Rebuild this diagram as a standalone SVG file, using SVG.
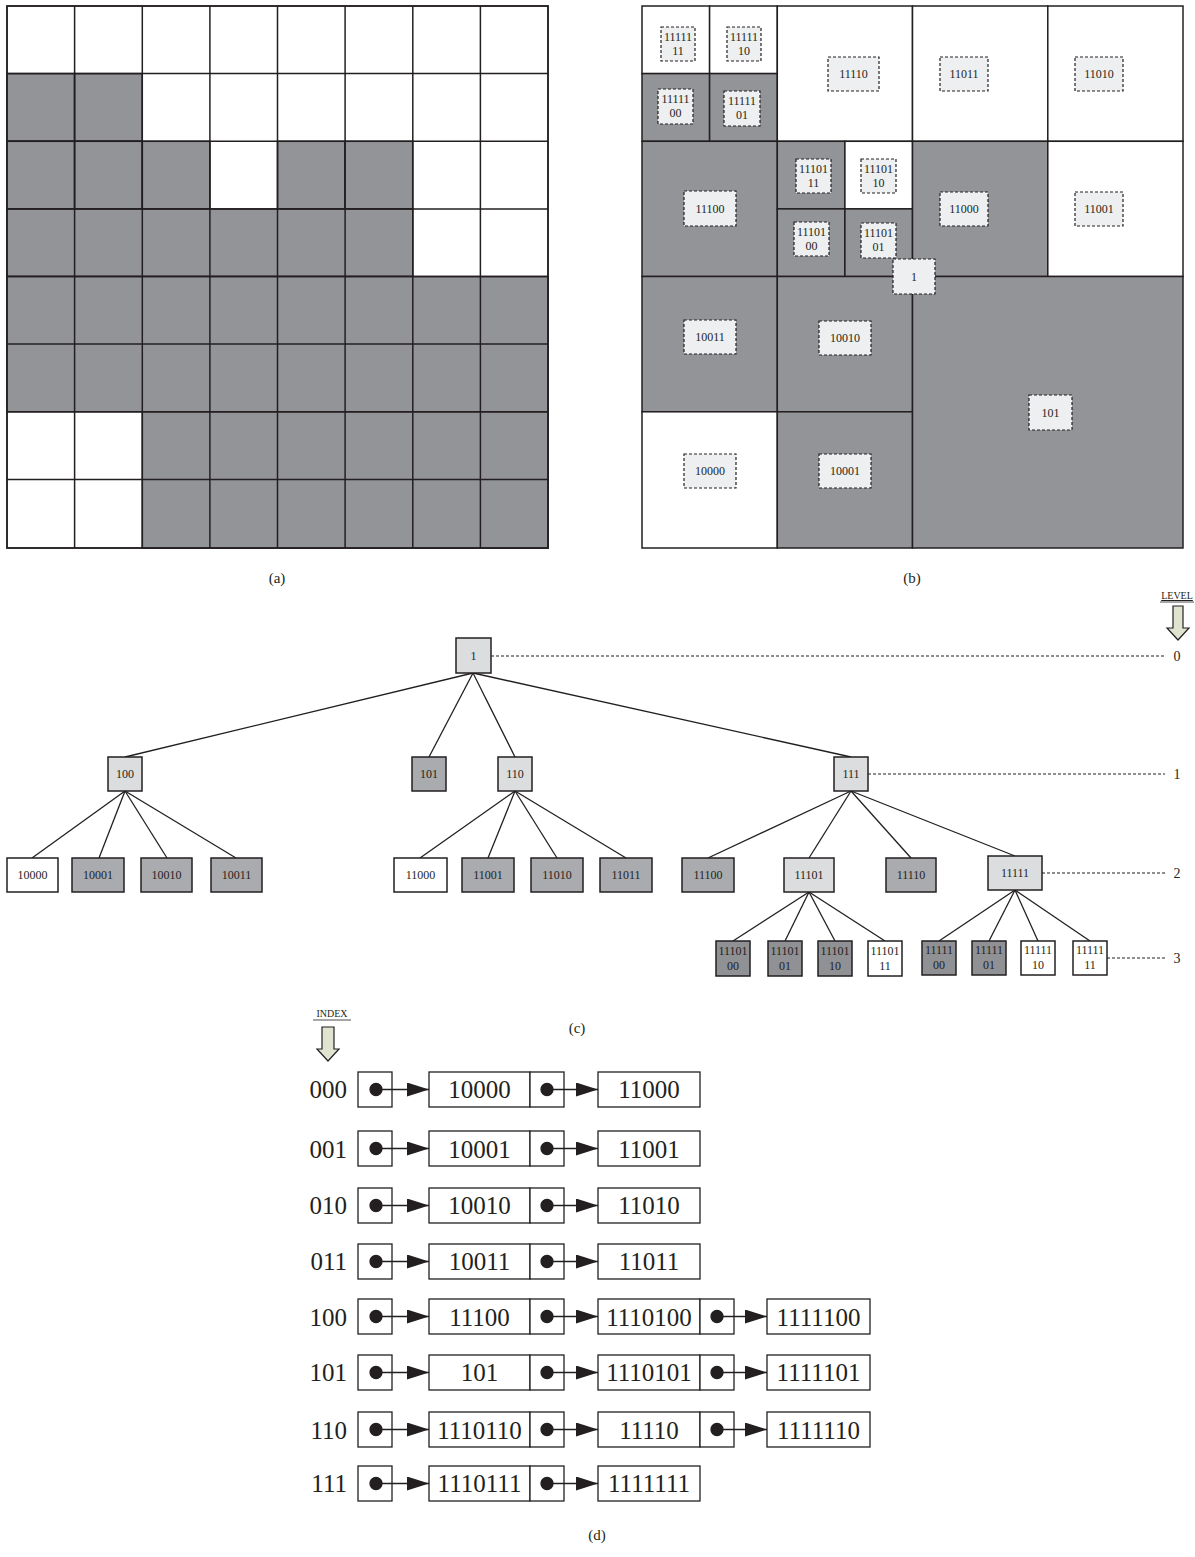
<svg xmlns="http://www.w3.org/2000/svg" width="1195" height="1557" viewBox="0 0 1195 1557">
<style>
text{font-family:"Liberation Serif","Times New Roman",serif;fill:#231f20}
.g{fill:#939498;stroke:#231f20;stroke-width:1.5}
.w{fill:#fff;stroke:#231f20;stroke-width:1.5}
.lb{fill:#eeeff1;stroke:#231f20;stroke-width:1.2;stroke-dasharray:3 2}
.s{font-size:12px;text-anchor:middle}
.cap{font-size:15px;text-anchor:middle}
.nl{fill:#dcdddf;stroke:#231f20;stroke-width:1.5}
.ng{fill:#aaabae;stroke:#231f20;stroke-width:1.5}
.nd{fill:#909195;stroke:#231f20;stroke-width:1.5}
.nw{fill:#fff;stroke:#231f20;stroke-width:1.5}
.e{stroke:#231f20;stroke-width:1.3;fill:none}
.dl{stroke:#231f20;stroke-width:1.2;stroke-dasharray:3 2;fill:none}
.lv{font-size:14px;text-anchor:middle}
.bx{fill:#fff;stroke:#231f20;stroke-width:1.3}
.t{font-size:25px;text-anchor:middle}
.ix{font-size:25px;text-anchor:end}
.bigarrow{fill:#dfe3cf;stroke:#231f20;stroke-width:1.2}
</style>
<defs>
<marker id="ah" markerWidth="22" markerHeight="14" refX="22" refY="7" orient="auto" markerUnits="userSpaceOnUse">
<path d="M0,0 L22,7 L0,14 Z" fill="#231f20"/>
</marker>
</defs>

<!-- Panel (a) -->
<g id="panel-a">
<rect class="w" x="7" y="6" width="541" height="542"/>
<g class="g">
<rect x="7" y="73.6" width="67.6" height="67.6"/><rect x="74.6" y="73.6" width="67.6" height="67.6"/>
<rect x="7" y="141.3" width="67.6" height="67.6"/><rect x="74.6" y="141.3" width="67.6" height="67.6"/><rect x="142.3" y="141.3" width="67.6" height="67.6"/><rect x="277.5" y="141.3" width="67.6" height="67.6"/><rect x="345.1" y="141.3" width="67.6" height="67.6"/>
<rect x="7" y="208.9" width="405.8" height="67.6"/>
<rect x="7" y="276.5" width="541" height="135.3"/>
<rect x="142.3" y="411.8" width="405.7" height="136.2"/>
</g>
<g stroke="#231f20" stroke-width="1.5">
<line x1="74.6" y1="6" x2="74.6" y2="548"/><line x1="142.3" y1="6" x2="142.3" y2="548"/><line x1="209.9" y1="6" x2="209.9" y2="548"/><line x1="277.5" y1="6" x2="277.5" y2="548"/><line x1="345.1" y1="6" x2="345.1" y2="548"/><line x1="412.8" y1="6" x2="412.8" y2="548"/><line x1="480.4" y1="6" x2="480.4" y2="548"/>
<line x1="7" y1="73.6" x2="548" y2="73.6"/><line x1="7" y1="141.3" x2="548" y2="141.3"/><line x1="7" y1="208.9" x2="548" y2="208.9"/><line x1="7" y1="276.5" x2="548" y2="276.5"/><line x1="7" y1="344.1" x2="548" y2="344.1"/><line x1="7" y1="411.8" x2="548" y2="411.8"/><line x1="7" y1="479.4" x2="548" y2="479.4"/>
</g>
<rect x="7" y="6" width="541" height="542" fill="none" stroke="#231f20" stroke-width="1.5"/>
<text class="cap" x="277" y="583">(a)</text>
</g>

<!-- Panel (b) -->
<g id="panel-b">
<rect class="w" x="642" y="6" width="67.6" height="67.6"/>
<rect class="w" x="709.6" y="6" width="67.7" height="67.6"/>
<rect class="g" x="642" y="73.6" width="67.6" height="67.7"/>
<rect class="g" x="709.6" y="73.6" width="67.7" height="67.7"/>
<rect class="w" x="777.3" y="6" width="135.2" height="135.3"/>
<rect class="w" x="912.5" y="6" width="135.3" height="135.3"/>
<rect class="w" x="1047.8" y="6" width="135.2" height="135.3"/>
<rect class="g" x="642" y="141.3" width="135.3" height="135.2"/>
<rect class="g" x="777.3" y="141.3" width="67.6" height="67.6"/>
<rect class="w" x="844.9" y="141.3" width="67.6" height="67.6"/>
<rect class="g" x="777.3" y="208.9" width="67.6" height="67.6"/>
<rect class="g" x="844.9" y="208.9" width="67.6" height="67.6"/>
<rect class="g" x="912.5" y="141.3" width="135.3" height="135.2"/>
<rect class="w" x="1047.8" y="141.3" width="135.2" height="135.2"/>
<rect class="g" x="642" y="276.5" width="135.3" height="135.3"/>
<rect class="g" x="777.3" y="276.5" width="135.2" height="135.3"/>
<rect class="w" x="642" y="411.8" width="135.3" height="136.2"/>
<rect class="g" x="777.3" y="411.8" width="135.2" height="136.2"/>
<rect class="g" x="912.5" y="276.5" width="270.5" height="271.5"/>

<g id="lb-111111"><rect class="lb" x="661" y="27" width="34" height="34"/><text class="s" x="678" y="41">11111</text><text class="s" x="678" y="55">11</text></g>
<g id="lb-111110"><rect class="lb" x="727" y="27" width="34" height="34"/><text class="s" x="744" y="41">11111</text><text class="s" x="744" y="55">10</text></g>
<g id="lb-111100"><rect class="lb" x="658" y="89" width="35" height="35"/><text class="s" x="675.5" y="103">11111</text><text class="s" x="675.5" y="117">00</text></g>
<g id="lb-111101"><rect class="lb" x="724" y="91" width="36" height="35"/><text class="s" x="742" y="105">11111</text><text class="s" x="742" y="119">01</text></g>
<g id="lb-11110"><rect class="lb" x="828" y="57" width="51" height="34"/><text class="s" x="853.5" y="78">11110</text></g>
<g id="lb-11011"><rect class="lb" x="940" y="57" width="48" height="34"/><text class="s" x="964" y="78">11011</text></g>
<g id="lb-11010"><rect class="lb" x="1075" y="57" width="48" height="34"/><text class="s" x="1099" y="78">11010</text></g>
<g id="lb-11100"><rect class="lb" x="684" y="191" width="52" height="35"/><text class="s" x="710" y="213">11100</text></g>
<g id="lb-111011"><rect class="lb" x="796" y="159" width="35" height="34"/><text class="s" x="813.5" y="173">11101</text><text class="s" x="813.5" y="187">11</text></g>
<g id="lb-111010"><rect class="lb" x="861" y="159" width="35" height="34"/><text class="s" x="878.5" y="173">11101</text><text class="s" x="878.5" y="187">10</text></g>
<g id="lb-111000"><rect class="lb" x="794" y="222" width="35" height="34"/><text class="s" x="811.5" y="236">11101</text><text class="s" x="811.5" y="250">00</text></g>
<g id="lb-111001"><rect class="lb" x="861" y="223" width="35" height="35"/><text class="s" x="878.5" y="237">11101</text><text class="s" x="878.5" y="251">01</text></g>
<g id="lb-11000"><rect class="lb" x="940" y="192" width="48" height="34"/><text class="s" x="964" y="213">11000</text></g>
<g id="lb-11001"><rect class="lb" x="1075" y="192" width="48" height="34"/><text class="s" x="1099" y="213">11001</text></g>
<g id="lb-10011"><rect class="lb" x="684" y="320" width="52" height="34"/><text class="s" x="710" y="341">10011</text></g>
<g id="lb-10010"><rect class="lb" x="819" y="321" width="52" height="34"/><text class="s" x="845" y="342">10010</text></g>
<g id="lb-10000"><rect class="lb" x="684" y="454" width="52" height="34"/><text class="s" x="710" y="475">10000</text></g>
<g id="lb-10001"><rect class="lb" x="819" y="454" width="52" height="34"/><text class="s" x="845" y="475">10001</text></g>
<g id="lb-101"><rect class="lb" x="1029" y="395" width="43" height="35"/><text class="s" x="1050.5" y="417">101</text></g>
<g id="lb-1"><rect class="lb" x="893" y="259" width="42" height="35"/><text class="s" x="914" y="281">1</text></g>
<text class="cap" x="912" y="583">(b)</text>
</g>

<!-- Panel (c) tree -->
<g id="connectors">
<line class="e" x1="473" y1="673" x2="125" y2="757"/>
<line class="e" x1="473" y1="673" x2="429" y2="757"/>
<line class="e" x1="473" y1="673" x2="515" y2="757"/>
<line class="e" x1="473" y1="673" x2="851" y2="757"/>
<line class="e" x1="125" y1="791" x2="32" y2="858"/>
<line class="e" x1="125" y1="791" x2="99" y2="858"/>
<line class="e" x1="125" y1="791" x2="167" y2="858"/>
<line class="e" x1="125" y1="791" x2="236" y2="858"/>
<line class="e" x1="515" y1="791" x2="420" y2="858"/>
<line class="e" x1="515" y1="791" x2="488" y2="858"/>
<line class="e" x1="515" y1="791" x2="557" y2="858"/>
<line class="e" x1="515" y1="791" x2="626" y2="858"/>
<line class="e" x1="851" y1="791" x2="708" y2="858"/>
<line class="e" x1="851" y1="791" x2="809" y2="858"/>
<line class="e" x1="851" y1="791" x2="911" y2="858"/>
<line class="e" x1="851" y1="791" x2="1015" y2="856"/>
<line class="e" x1="809" y1="892" x2="733" y2="941"/>
<line class="e" x1="809" y1="892" x2="785" y2="941"/>
<line class="e" x1="809" y1="892" x2="835" y2="941"/>
<line class="e" x1="809" y1="892" x2="885" y2="941"/>
<line class="e" x1="1015" y1="890" x2="939" y2="941"/>
<line class="e" x1="1015" y1="890" x2="989" y2="941"/>
<line class="e" x1="1015" y1="890" x2="1038" y2="941"/>
<line class="e" x1="1015" y1="890" x2="1090" y2="941"/>
<line class="dl" x1="491" y1="656" x2="1165" y2="656"/>
<line class="dl" x1="868" y1="774" x2="1165" y2="774"/>
<line class="dl" x1="1042" y1="873" x2="1165" y2="873"/>
<line class="dl" x1="1107" y1="958" x2="1165" y2="958"/>
</g>

<g id="level-legend">
<text x="1177" y="599" font-size="10" text-anchor="middle" text-decoration="underline">LEVEL</text>
<line x1="1160" y1="602" x2="1194" y2="602" stroke="#231f20" stroke-width="0.8"/>
<path class="bigarrow" d="M1173,606 L1183,606 L1183,628 L1189,628 L1178,640 L1167,628 L1173,628 Z"/>
<text class="lv" x="1177" y="661">0</text>
<text class="lv" x="1177" y="779">1</text>
<text class="lv" x="1177" y="878">2</text>
<text class="lv" x="1177" y="963">3</text>
</g>

<g id="node-1"><rect class="nl" x="456" y="638" width="35" height="35"/><text class="s" x="473.5" y="660">1</text></g>
<g id="node-100"><rect class="nl" x="108" y="757" width="34" height="34"/><text class="s" x="125" y="778">100</text></g>
<g id="node-101"><rect class="ng" x="412" y="757" width="34" height="34"/><text class="s" x="429" y="778">101</text></g>
<g id="node-110"><rect class="nl" x="498" y="757" width="34" height="34"/><text class="s" x="515" y="778">110</text></g>
<g id="node-111"><rect class="nl" x="834" y="757" width="34" height="34"/><text class="s" x="851" y="778">111</text></g>

<g id="node-10000"><rect class="nw" x="7" y="858" width="51" height="34"/><text class="s" x="32.5" y="879">10000</text></g>
<g id="node-10001"><rect class="ng" x="72" y="858" width="52" height="34"/><text class="s" x="98" y="879">10001</text></g>
<g id="node-10010"><rect class="ng" x="141" y="858" width="51" height="34"/><text class="s" x="166.5" y="879">10010</text></g>
<g id="node-10011"><rect class="ng" x="211" y="858" width="51" height="34"/><text class="s" x="236.5" y="879">10011</text></g>
<g id="node-11000"><rect class="nw" x="394" y="858" width="53" height="34"/><text class="s" x="420.5" y="879">11000</text></g>
<g id="node-11001"><rect class="ng" x="462" y="858" width="52" height="34"/><text class="s" x="488" y="879">11001</text></g>
<g id="node-11010"><rect class="ng" x="531" y="858" width="52" height="34"/><text class="s" x="557" y="879">11010</text></g>
<g id="node-11011"><rect class="ng" x="600" y="858" width="52" height="34"/><text class="s" x="626" y="879">11011</text></g>
<g id="node-11100"><rect class="ng" x="682" y="858" width="52" height="34"/><text class="s" x="708" y="879">11100</text></g>
<g id="node-11101"><rect class="nl" x="784" y="858" width="50" height="34"/><text class="s" x="809" y="879">11101</text></g>
<g id="node-11110"><rect class="ng" x="886" y="858" width="50" height="34"/><text class="s" x="911" y="879">11110</text></g>
<g id="node-11111"><rect class="nl" x="988" y="856" width="54" height="34"/><text class="s" x="1015" y="877">11111</text></g>

<g id="node-1110100"><rect class="nd" x="716" y="941" width="34" height="35"/><text class="s" x="733" y="955">11101</text><text class="s" x="733" y="970">00</text></g>
<g id="node-1110101"><rect class="nd" x="768" y="941" width="34" height="35"/><text class="s" x="785" y="955">11101</text><text class="s" x="785" y="970">01</text></g>
<g id="node-1110110"><rect class="nd" x="818" y="941" width="34" height="35"/><text class="s" x="835" y="955">11101</text><text class="s" x="835" y="970">10</text></g>
<g id="node-1110111"><rect class="nw" x="868" y="941" width="34" height="35"/><text class="s" x="885" y="955">11101</text><text class="s" x="885" y="970">11</text></g>
<g id="node-1111100"><rect class="nd" x="922" y="941" width="34" height="34"/><text class="s" x="939" y="954">11111</text><text class="s" x="939" y="969">00</text></g>
<g id="node-1111101"><rect class="nd" x="972" y="941" width="34" height="34"/><text class="s" x="989" y="954">11111</text><text class="s" x="989" y="969">01</text></g>
<g id="node-1111110"><rect class="nw" x="1021" y="941" width="34" height="34"/><text class="s" x="1038" y="954">11111</text><text class="s" x="1038" y="969">10</text></g>
<g id="node-1111111"><rect class="nw" x="1073" y="941" width="34" height="34"/><text class="s" x="1090" y="954">11111</text><text class="s" x="1090" y="969">11</text></g>
<text class="cap" x="577" y="1033">(c)</text>

<!-- Panel (d) -->
<g id="index-legend">
<text x="332" y="1017" font-size="10" text-anchor="middle">INDEX</text>
<line x1="313" y1="1020" x2="351" y2="1020" stroke="#231f20" stroke-width="0.8"/>
<path class="bigarrow" d="M322,1027 L334,1027 L334,1049 L339,1049 L328,1061 L317,1049 L322,1049 Z"/>
</g>

<g id="hash-rows">
<!-- row 000 -->
<g id="row-000">
<text class="ix" x="347" y="1098">000</text>
<rect class="bx" x="358" y="1072" width="34" height="35"/>
<rect class="bx" x="429" y="1072" width="101" height="35"/><text class="t" x="479.5" y="1098">10000</text>
<rect class="bx" x="530" y="1072" width="34" height="35"/>
<rect class="bx" x="598" y="1072" width="102" height="35"/><text class="t" x="649" y="1098">11000</text>
</g>
<g id="row-001">
<text class="ix" x="347" y="1158">001</text>
<rect class="bx" x="358" y="1131" width="34" height="35"/>
<rect class="bx" x="429" y="1131" width="101" height="35"/><text class="t" x="479.5" y="1158">10001</text>
<rect class="bx" x="530" y="1131" width="34" height="35"/>
<rect class="bx" x="598" y="1131" width="102" height="35"/><text class="t" x="649" y="1158">11001</text>
</g>
<g id="row-010">
<text class="ix" x="347" y="1214">010</text>
<rect class="bx" x="358" y="1188" width="34" height="35"/>
<rect class="bx" x="429" y="1188" width="101" height="35"/><text class="t" x="479.5" y="1214">10010</text>
<rect class="bx" x="530" y="1188" width="34" height="35"/>
<rect class="bx" x="598" y="1188" width="102" height="35"/><text class="t" x="649" y="1214">11010</text>
</g>
<g id="row-011">
<text class="ix" x="347" y="1270">011</text>
<rect class="bx" x="358" y="1244" width="34" height="35"/>
<rect class="bx" x="429" y="1244" width="101" height="35"/><text class="t" x="479.5" y="1270">10011</text>
<rect class="bx" x="530" y="1244" width="34" height="35"/>
<rect class="bx" x="598" y="1244" width="102" height="35"/><text class="t" x="649" y="1270">11011</text>
</g>
<g id="row-100">
<text class="ix" x="347" y="1326">100</text>
<rect class="bx" x="358" y="1299" width="34" height="35"/>
<rect class="bx" x="429" y="1299" width="101" height="35"/><text class="t" x="479.5" y="1326">11100</text>
<rect class="bx" x="530" y="1299" width="34" height="35"/>
<rect class="bx" x="598" y="1299" width="102" height="35"/><text class="t" x="649" y="1326">1110100</text>
<rect class="bx" x="700" y="1299" width="34" height="35"/>
<rect class="bx" x="767" y="1299" width="103" height="35"/><text class="t" x="818.5" y="1326">1111100</text>
</g>
<g id="row-101">
<text class="ix" x="347" y="1381">101</text>
<rect class="bx" x="358" y="1355" width="34" height="35"/>
<rect class="bx" x="429" y="1355" width="101" height="35"/><text class="t" x="479.5" y="1381">101</text>
<rect class="bx" x="530" y="1355" width="34" height="35"/>
<rect class="bx" x="598" y="1355" width="102" height="35"/><text class="t" x="649" y="1381">1110101</text>
<rect class="bx" x="700" y="1355" width="34" height="35"/>
<rect class="bx" x="767" y="1355" width="103" height="35"/><text class="t" x="818.5" y="1381">1111101</text>
</g>
<g id="row-110">
<text class="ix" x="347" y="1439">110</text>
<rect class="bx" x="358" y="1412" width="34" height="35"/>
<rect class="bx" x="429" y="1412" width="101" height="35"/><text class="t" x="479.5" y="1439">1110110</text>
<rect class="bx" x="530" y="1412" width="34" height="35"/>
<rect class="bx" x="598" y="1412" width="102" height="35"/><text class="t" x="649" y="1439">11110</text>
<rect class="bx" x="700" y="1412" width="34" height="35"/>
<rect class="bx" x="767" y="1412" width="103" height="35"/><text class="t" x="818.5" y="1439">1111110</text>
</g>
<g id="row-111">
<text class="ix" x="347" y="1492">111</text>
<rect class="bx" x="358" y="1466" width="34" height="35"/>
<rect class="bx" x="429" y="1466" width="101" height="35"/><text class="t" x="479.5" y="1492">1110111</text>
<rect class="bx" x="530" y="1466" width="34" height="35"/>
<rect class="bx" x="598" y="1466" width="102" height="35"/><text class="t" x="649" y="1492">1111111</text>
</g>
</g>

<g id="pointer-connectors" stroke="#231f20" stroke-width="1.3" fill="#231f20">
<circle cx="376" cy="1089.5" r="6"/><line x1="376" y1="1089.5" x2="429" y2="1089.5" marker-end="url(#ah)"/>
<circle cx="547" cy="1089.5" r="6"/><line x1="547" y1="1089.5" x2="598" y2="1089.5" marker-end="url(#ah)"/>
<circle cx="376" cy="1148.5" r="6"/><line x1="376" y1="1148.5" x2="429" y2="1148.5" marker-end="url(#ah)"/>
<circle cx="547" cy="1148.5" r="6"/><line x1="547" y1="1148.5" x2="598" y2="1148.5" marker-end="url(#ah)"/>
<circle cx="376" cy="1205.5" r="6"/><line x1="376" y1="1205.5" x2="429" y2="1205.5" marker-end="url(#ah)"/>
<circle cx="547" cy="1205.5" r="6"/><line x1="547" y1="1205.5" x2="598" y2="1205.5" marker-end="url(#ah)"/>
<circle cx="376" cy="1261.5" r="6"/><line x1="376" y1="1261.5" x2="429" y2="1261.5" marker-end="url(#ah)"/>
<circle cx="547" cy="1261.5" r="6"/><line x1="547" y1="1261.5" x2="598" y2="1261.5" marker-end="url(#ah)"/>
<circle cx="376" cy="1316.5" r="6"/><line x1="376" y1="1316.5" x2="429" y2="1316.5" marker-end="url(#ah)"/>
<circle cx="547" cy="1316.5" r="6"/><line x1="547" y1="1316.5" x2="598" y2="1316.5" marker-end="url(#ah)"/>
<circle cx="717" cy="1316.5" r="6"/><line x1="717" y1="1316.5" x2="767" y2="1316.5" marker-end="url(#ah)"/>
<circle cx="376" cy="1372.5" r="6"/><line x1="376" y1="1372.5" x2="429" y2="1372.5" marker-end="url(#ah)"/>
<circle cx="547" cy="1372.5" r="6"/><line x1="547" y1="1372.5" x2="598" y2="1372.5" marker-end="url(#ah)"/>
<circle cx="717" cy="1372.5" r="6"/><line x1="717" y1="1372.5" x2="767" y2="1372.5" marker-end="url(#ah)"/>
<circle cx="376" cy="1429.5" r="6"/><line x1="376" y1="1429.5" x2="429" y2="1429.5" marker-end="url(#ah)"/>
<circle cx="547" cy="1429.5" r="6"/><line x1="547" y1="1429.5" x2="598" y2="1429.5" marker-end="url(#ah)"/>
<circle cx="717" cy="1429.5" r="6"/><line x1="717" y1="1429.5" x2="767" y2="1429.5" marker-end="url(#ah)"/>
<circle cx="376" cy="1483.5" r="6"/><line x1="376" y1="1483.5" x2="429" y2="1483.5" marker-end="url(#ah)"/>
<circle cx="547" cy="1483.5" r="6"/><line x1="547" y1="1483.5" x2="598" y2="1483.5" marker-end="url(#ah)"/>
</g>
<text class="cap" x="597" y="1540">(d)</text>
</svg>
